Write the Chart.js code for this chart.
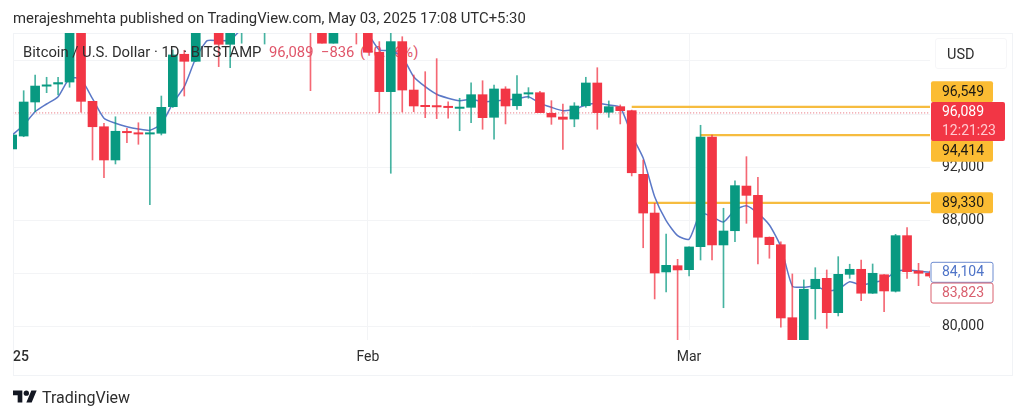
<!DOCTYPE html>
<html>
<head>
<meta charset="utf-8">
<title>Bitcoin / U.S. Dollar</title>
<script src="https://cdn.jsdelivr.net/npm/chart.js@4/dist/chart.umd.min.js"></script>
<style>
  html, body { margin: 0; padding: 0; background: #fff; }
  body { width: 1024px; height: 418px; position: relative; overflow: hidden; font-family: Roboto, sans-serif; }
  #frame { position: absolute; left: 13px; top: 33px; width: 998px; height: 341px; border: 1px solid #f1f3f6; box-sizing: content-box; }
  #cv { position: absolute; left: 0; top: 0; }
  .txt { position: absolute; white-space: nowrap; }
  #head { left: 13px; top: 9px; font-size: 14.85px; color: #2e2e2e; }
  .leg { top: 43px; font-size: 14.8px; }
  #usd { position: absolute; left: 935px; top: 38px; width: 72px; height: 31px; line-height: 31px; border: 1px solid #f6f6f8; border-radius: 3px; box-sizing: border-box; padding-left: 11px; font-size: 14.5px; color: #2e2e2e; }
  #logo { position: absolute; left: 13px; top: 390px; }
  #brand { left: 42px; top: 388px; font-size: 16px; color: #2e2e2e; }
</style>
</head>
<body>
<div id="frame"></div>
<div class="txt leg" style="left:360px;color:#e0566a">(+0.86%)</div>
<canvas id="cv" width="1024" height="418"></canvas>
<div class="txt" id="head">merajeshmehta published on TradingView.com, May 03, 2025 17:08 UTC+5:30</div>
<div class="txt leg" style="left:23px;color:#2e2e2e">Bitcoin / U.S. Dollar · 1D · BITSTAMP</div>
<div class="txt leg" style="left:269px;color:#e0566a">96,089</div>
<div class="txt leg" style="left:321px;color:#e0566a">−836</div>
<div id="usd">USD</div>
<svg id="logo" width="24" height="13" viewBox="0 4 36 18"><path fill="#131722" d="M14 22H7V11H0V4h14v18zM28 22h-8l7.5-18h8L28 22z"/><circle fill="#131722" cx="20" cy="8" r="4"/></svg>
<div class="txt" id="brand">TradingView</div>

<script>
// ── DATA ─────────────────────────────────────────────────
// daily candles from 1 Jan 2025, index = day offset
const opens = [93380,94350,96910,98100,98260,98410,102400,96960,95050,92550,94700,94600,94500,94560,96560,100500,99970,103000,104500,101250,102800,104500,103500,104000,104500,103500,104500,103000,101330,103000,103500,
  102300,100650,97690,101450,97810,96660,96640,96590,96430,96510,97460,95760,97890,96630,97510,97610,96060,95780,95630,96630,98340,96140,96560,96260,91470,88560,84130,84600,84300,86030,94280,86160,87230,90590,89890,86740,86180,80690,78700,82870,83650,81070,83950,84330,82530,83920,82680,86860,84200,84030];
const highs = [94430,97760,98940,98770,98770,103000,103000,96960,95310,95800,94930,95350,95800,97360,100820,100800,103500,105000,105500,103500,105000,106000,104500,105000,105000,105000,105000,103500,103500,104000,104000,
  102400,101450,102200,101820,98940,99190,100170,96930,97190,98360,98510,98190,98060,98890,97990,97720,97010,96760,96860,98770,99490,96990,96690,96300,92550,89290,86980,85080,86010,95160,94430,88920,90990,92800,91250,86760,86400,83980,83530,84450,84280,85280,84710,85030,84730,83930,86960,87460,84780,84200];
const lows = [93380,94300,96180,97610,97440,98020,96140,92550,91220,92250,93850,93730,89190,94430,96500,97360,99940,102500,99570,99490,101330,102500,101270,102500,102800,102500,97760,101330,101330,102500,101270,
  100650,96110,91550,96160,96180,95730,95660,95690,94750,95350,94860,94110,95260,96360,97190,96110,95230,93350,95050,96510,94860,95760,95260,91350,85950,82100,82620,78200,83830,85030,85030,81440,86410,87790,84730,85160,79970,78700,78600,80590,79890,80820,83650,81970,82510,81140,82620,83650,83100,83700];
const closes = [94430,96910,98110,98200,98370,102500,96960,95050,92550,94710,94600,94500,94600,96510,100450,99970,103000,104500,101250,102800,104500,105500,104000,104500,103500,104500,103000,101330,103000,103500,102500,
  100650,97690,101450,97810,96610,96560,96540,96490,96530,97460,95730,97890,96610,97510,97610,96110,95780,95610,96610,98340,96110,96560,96260,91590,88560,84050,84630,84280,86010,94280,86160,87210,90620,89890,86740,86180,80670,78700,82830,83580,81070,83950,84330,82530,84030,82700,86860,84150,84030,83823];
const maValues = [94430,95180,96180,96760,97310,98690,98620,97160,95690,95310,95050,94880,94780,95260,96810,98060,100200,101520,101520,101570,102400,102900,103100,103200,103300,103400,103300,103100,102900,102800,102600,
  102020,100820,100770,100320,98810,98060,97490,97190,97010,97110,96930,96990,97060,97140,97310,96810,96510,96260,96360,96690,96810,96690,96510,94430,92700,89790,87990,86860,86590,88560,88290,87890,88790,89110,88540,87660,86030,83070,82980,83070,82720,82830,83400,83150,83320,83530,84150,84280,84200,84104];

const levelValues = [96549, 94414, 89330];
const levelStarts = [54, 60, 55];
const lastPrice = 96089;
const countdown = '12:21:23';
const maLast = 84104;
const closeLast = 83823;

const xTickValues = [0.77, 31, 59];
const xTickLabels = ['25', 'Feb', 'Mar'];
const yTickValues = [80000, 84000, 88000, 92000, 96000, 100000];
const yTickShown = [80000, 88000, 92000];

// ── COLORS ───────────────────────────────────────────────
const UP = '#089981', DOWN = '#F23645', MA = '#5B78C7', LEVEL = '#F6BC3F';
const UP_WICK = 'rgba(8,153,129,0.75)', DOWN_WICK = 'rgba(242,54,69,0.75)';
const isUp = i => closes[i] >= opens[i];
const fmt = v => v.toLocaleString('en-US');

// ── PRICE TAGS ON THE AXIS ───────────────────────────────
const priceTags = {
  id: 'priceTags',
  afterDraw(chart) {
    const { ctx } = chart;
    const y = chart.scales.y;
    const tag = (val, dy, h, w, fill, stroke, lines) => {
      const cy = y.getPixelForValue(val) + dy;
      ctx.save();
      ctx.beginPath();
      ctx.roundRect(931, cy - h / 2, w, h, 2);
      ctx.fillStyle = fill;
      ctx.fill();
      if (stroke) { ctx.strokeStyle = stroke; ctx.lineWidth = 1; ctx.stroke(); }
      ctx.font = '14px Roboto';
      ctx.textBaseline = 'middle';
      lines.forEach((l, i) => {
        ctx.fillStyle = l.color;
        ctx.fillText(l.text, 942, cy + (i - (lines.length - 1) / 2) * 19 + 0.5);
      });
      ctx.restore();
    };
    tag(levelValues[0], -15, 21, 62, '#FBBC33', null, [{ text: fmt(levelValues[0]), color: '#1c1a14' }]);
    tag(levelValues[1], 15.5, 22, 62, '#FBBC33', null, [{ text: fmt(levelValues[1]), color: '#1c1a14' }]);
    tag(levelValues[2], 0, 21, 62, '#FBBC33', null, [{ text: fmt(levelValues[2]), color: '#1c1a14' }]);
    tag(maLast, 0, 20, 62, '#fff', '#6d8bd0', [{ text: fmt(maLast), color: '#4f74c8' }]);
    tag(closeLast, 17, 20, 62, '#fff', '#d9606f', [{ text: fmt(closeLast), color: '#d9606f' }]);
    tag(lastPrice, 8.6, 39, 74, DOWN, null, [{ text: fmt(lastPrice), color: '#fff' }, { text: countdown, color: '#ffc9cf' }]);
  },
};

// ── CHART ────────────────────────────────────────────────
const wickData = opens.map((_, i) => ({ x: i, y: [lows[i], highs[i]] }));
const bodyData = opens.map((_, i) => ({ x: i, y: [opens[i], closes[i]] }));
const maData = maValues.map((v, i) => ({ x: i, y: v }));
const lastIdx = opens.length - 1;

const levelSets = levelValues.map((v, i) => ({
  type: 'line', order: 3,
  data: [{ x: levelStarts[i], y: v }, { x: lastIdx, y: v }],
  borderColor: LEVEL, borderWidth: 2.2, pointRadius: 0,
}));

new Chart(document.getElementById('cv').getContext('2d'), {
  type: 'bar',
  plugins: [priceTags],
  data: {
    datasets: [
      { order: 1, grouped: false, data: wickData, barThickness: 1, backgroundColor: c => isUp(c.dataIndex) ? UP_WICK : DOWN_WICK },
      { order: 0, grouped: false, data: bodyData, barThickness: 9, backgroundColor: c => isUp(c.dataIndex) ? UP : DOWN },
      { type: 'line', order: 2, data: maData, borderColor: MA, borderWidth: 1.5, pointRadius: 0, tension: 0.2 },
      ...levelSets,
      { type: 'line', order: 4, data: [{ x: 0, y: lastPrice }, { x: lastIdx, y: lastPrice }],
        borderColor: '#E5636F', borderWidth: 1, borderDash: [1, 2], pointRadius: 0 },
    ],
  },
  options: {
    responsive: false,
    animation: false,
    layout: { padding: { left: 13, top: 33, right: 0, bottom: 44 } },
    plugins: { legend: { display: false }, tooltip: { enabled: false } },
    scales: {
      x: {
        type: 'linear', offset: false, min: 0.07, max: 80,
        afterBuildTicks: s => { s.ticks = xTickValues.map(value => ({ value })); },
        afterFit: s => { s.height = 34; },
        grid: { offset: false, color: c => (c.tick && c.tick.value === xTickValues[0]) ? 'transparent' : '#f3f4f6', drawTicks: false },
        border: { display: false },
        ticks: {
          autoSkip: false, maxRotation: 0, padding: 9, color: '#2e2e2e',
          font: c => ({ family: 'Roboto', size: 14, weight: c.index === 0 ? '500' : '400' }),
          callback: v => xTickLabels[xTickValues.indexOf(v)],
        },
      },
      y: {
        type: 'linear', position: 'right', min: 79013, max: 102099,
        afterBuildTicks: s => { s.ticks = yTickValues.map(value => ({ value })); },
        afterFit: s => { s.width = 94; },
        grid: { color: '#f3f4f6', drawTicks: false },
        border: { display: false },
        ticks: {
          padding: 12, color: '#2e2e2e', font: { family: 'Roboto', size: 14 },
          callback: v => yTickShown.includes(v) ? fmt(v) : '',
        },
      },
    },
  },
});
</script>
</body>
</html>
